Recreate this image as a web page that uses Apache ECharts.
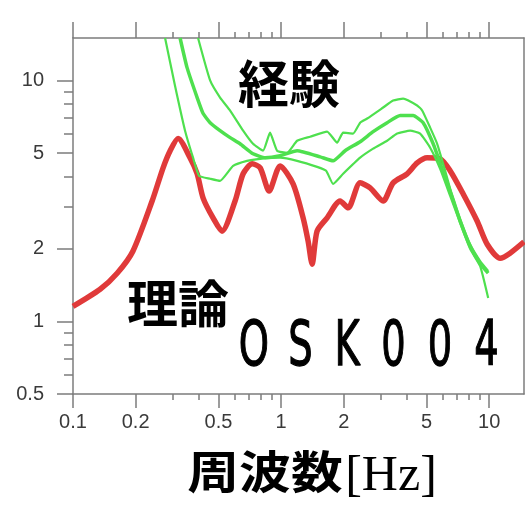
<!DOCTYPE html>
<html>
<head>
<meta charset="utf-8">
<script src="https://cdn.jsdelivr.net/npm/echarts@6/dist/echarts.min.js"></script>
<style>
  html, body { margin: 0; padding: 0; background: #ffffff; }
  #chart { width: 525px; height: 506px; }
</style>
</head>
<body>
<div id="chart"></div>
<script>
// Site OSK004: theoretical vs. empirical site amplification (log-log)

// Theoretical amplification (red)
const theoryFreq = [0.1, 0.135, 0.163, 0.194, 0.240, 0.271, 0.293, 0.320, 0.365, 0.395, 0.422, 0.471, 0.520,
  0.601, 0.657, 0.726, 0.793, 0.876, 0.989, 1.142, 1.276, 1.349, 1.41, 1.489, 1.664, 1.921, 2.10, 2.398,
  2.679, 3.093, 3.455, 4.035, 4.506, 5.033, 5.81, 6.49, 7.50, 8.75, 9.78, 11.29, 12.6, 14.7];
const theoryAmp = [1.155, 1.36, 1.585, 1.956, 3.16, 4.34, 5.11, 5.74, 4.78, 4.10, 3.25, 2.69, 2.37,
  3.16, 4.10, 4.51, 4.34, 3.48, 4.42, 3.72, 2.69, 2.15, 1.727, 2.37, 2.69, 3.16, 2.96, 3.76,
  3.58, 3.16, 3.76, 4.10, 4.55, 4.78, 4.73, 4.22, 3.38, 2.61, 2.09, 1.83, 1.92, 2.14];

// Empirical amplification: upper envelope (green)
const empUpperFreq = [0.399, 0.456, 0.509, 0.569, 0.657, 0.733, 0.819, 0.885, 0.957, 1.069, 1.194, 1.379,
  1.664, 1.859, 1.987, 2.220, 2.398, 2.592, 3.093, 3.455, 3.860, 4.506, 4.763, 5.204, 5.623, 6.144, 6.640,
  7.254, 8.101, 9.050, 9.890];
const empUpperAmp = [15.0, 10.0, 8.49, 7.50, 6.19, 5.46, 5.11, 6.07, 5.11, 5.01, 5.62, 5.84,
  6.13, 5.52, 6.07, 6.02, 6.68, 6.95, 7.72, 8.25, 8.41, 7.87, 7.50, 6.37, 5.46, 4.22, 3.32,
  2.66, 2.09, 1.78, 1.62];

// Empirical amplification: mean (green, heavier)
const empMeanFreq = [0.327, 0.353, 0.395, 0.422, 0.456, 0.509, 0.569, 0.635, 0.733, 0.838, 0.989, 1.194,
  1.540, 1.778, 2.031, 2.398, 2.769, 3.233, 3.734, 4.312, 4.816, 5.381, 5.943, 6.640, 7.254, 8.101,
  9.050, 9.890];
const empMeanAmp = [15.0, 11.33, 8.49, 7.29, 6.68, 6.19, 5.79, 5.46, 4.96, 4.78, 4.87, 5.11,
  4.82, 4.64, 5.11, 5.57, 6.13, 6.68, 7.15, 7.15, 6.68, 5.46, 4.30, 3.29, 2.61, 2.05,
  1.74, 1.585];

// Empirical amplification: lower envelope (green)
const empLowerFreq = [0.277, 0.309, 0.3455, 0.3775, 0.4035, 0.456, 0.509, 0.588, 0.686, 0.7925, 0.989, 1.194,
  1.490, 1.646, 1.778, 1.987, 2.398, 2.769, 3.233, 3.612, 4.172, 4.659, 5.204, 5.812, 6.494, 7.254,
  8.101, 9.050, 9.890];
const empLowerAmp = [15.0, 9.53, 6.19, 4.78, 4.02, 3.91, 3.83, 4.42, 4.64, 4.73, 4.78, 4.64,
  4.38, 4.22, 3.72, 4.10, 4.78, 5.21, 5.62, 6.02, 6.19, 6.02, 5.26, 4.30, 3.32, 2.56,
  2.00, 1.695, 1.25];

// Axis ticks and labels
const xMajorTicks = [0.1, 0.2, 0.5, 1, 2, 5, 10];
const xMinorTicks = [0.3, 0.4, 0.6, 0.7, 0.8, 0.9, 3, 4, 6, 7, 8, 9];
const yMajorTicks = [0.5, 1, 2, 5, 10];
const yMinorTicks = [0.6, 0.7, 0.8, 0.9, 3, 4, 6, 7, 8, 9];

const labelTheory = '理論';
const labelEmpirical = '経験';
const siteCode = 'OSK004';
const xTitleJa = '周波数';
const xTitleUnit = '[Hz]';

const X_MIN = 0.1, X_MAX = 14.7, Y_MIN = 0.5, Y_MAX = 15;
const AXIS_COLOR = '#7c7c7c';
const RED = '#e03a3a';
const GREEN = '#4ee04e';

const zip = (xs, ys) => xs.map((x, i) => [x, ys[i]]);
const fmt = v => String(Math.round(v * 10) / 10);

function xAxisDef(position, ticks, len, showLine, showLabel) {
  return {
    type: 'log', logBase: 10, min: X_MIN, max: X_MAX, position: position,
    axisLine: { show: showLine, lineStyle: { color: AXIS_COLOR, width: 1.5 } },
    axisTick: { show: true, inside: false, length: len, customValues: ticks,
      lineStyle: { color: AXIS_COLOR, width: 1.5 } },
    axisLabel: { show: showLabel, customValues: ticks, formatter: fmt, margin: 18,
      fontFamily: 'Liberation Sans', fontSize: 20, color: '#3a3a3a' },
    splitLine: { show: false }, minorTick: { show: false }, minorSplitLine: { show: false }
  };
}
function yAxisDef(position, ticks, len, showLine, showLabel, showTick) {
  return {
    type: 'log', logBase: 10, min: Y_MIN, max: Y_MAX, position: position,
    axisLine: { show: showLine, lineStyle: { color: AXIS_COLOR, width: 1.5 } },
    axisTick: { show: showTick, inside: false, length: len, customValues: ticks,
      lineStyle: { color: AXIS_COLOR, width: 1.5 } },
    axisLabel: { show: showLabel, customValues: ticks, formatter: fmt, margin: 29,
      fontFamily: 'Liberation Sans', fontSize: 20, color: '#3a3a3a' },
    splitLine: { show: false }, minorTick: { show: false }, minorSplitLine: { show: false }
  };
}

const chart = echarts.init(document.getElementById('chart'), null, { renderer: 'canvas' });

// Site code, spread out letter by letter in a narrow face
const siteText = siteCode.split('').map((ch, i) => ({
  type: 'text', x: 254 + i * 46.5, y: 349, scaleX: 0.62,
  style: { text: ch, font: '62px "DejaVu Sans"', fill: '#000', stroke: '#000', lineWidth: 1.3,
    textAlign: 'center', textVerticalAlign: 'middle' }
}));

chart.setOption({
  animation: false,
  backgroundColor: '#ffffff',
  grid: { left: 73, top: 38, width: 451, height: 356, containLabel: false },
  xAxis: [
    xAxisDef('bottom', xMajorTicks, 14, true, true),
    xAxisDef('bottom', xMinorTicks, 6, false, false),
    xAxisDef('top', xMajorTicks, 16, true, false),
    xAxisDef('top', xMinorTicks, 6, false, false)
  ],
  yAxis: [
    yAxisDef('left', yMajorTicks, 16, true, true, true),
    yAxisDef('left', yMinorTicks, 9, false, false, true),
    yAxisDef('right', [], 0, true, false, false)
  ],
  series: [
    { type: 'line', name: labelTheory, data: zip(theoryFreq, theoryAmp), showSymbol: false, smooth: 0.25,
      lineStyle: { color: RED, width: 5.5 }, z: 2 },
    { type: 'line', name: labelEmpirical + '+', data: zip(empUpperFreq, empUpperAmp), showSymbol: false, smooth: 0.15,
      lineStyle: { color: GREEN, width: 2.2 }, z: 3 },
    { type: 'line', name: labelEmpirical, data: zip(empMeanFreq, empMeanAmp), showSymbol: false, smooth: 0.15,
      lineStyle: { color: GREEN, width: 3.5 }, z: 3 },
    { type: 'line', name: labelEmpirical + '-', data: zip(empLowerFreq, empLowerAmp), showSymbol: false, smooth: 0.15,
      lineStyle: { color: GREEN, width: 2.2 }, z: 3 }
  ],
  graphic: [
    { type: 'text', x: 289, y: 84, style: { text: labelEmpirical, font: 'bold 51px "Noto Sans CJK JP"', fill: '#000',
      textAlign: 'center', textVerticalAlign: 'middle' } },
    { type: 'text', x: 178, y: 304, style: { text: labelTheory, font: 'bold 51px "Noto Sans CJK JP"', fill: '#000',
      textAlign: 'center', textVerticalAlign: 'middle' } },
    ...siteText,
    { type: 'text', x: 265, y: 472, scaleX: 1.15, style: { text: xTitleJa, font: 'bold 45px "Noto Sans CJK JP"', fill: '#000',
      textAlign: 'center', textVerticalAlign: 'middle' } },
    { type: 'text', x: 391, y: 477, style: { text: xTitleUnit, font: '50px "Liberation Serif"', fill: '#000',
      textAlign: 'center', textVerticalAlign: 'middle' } }
  ]
});
</script>
</body>
</html>
